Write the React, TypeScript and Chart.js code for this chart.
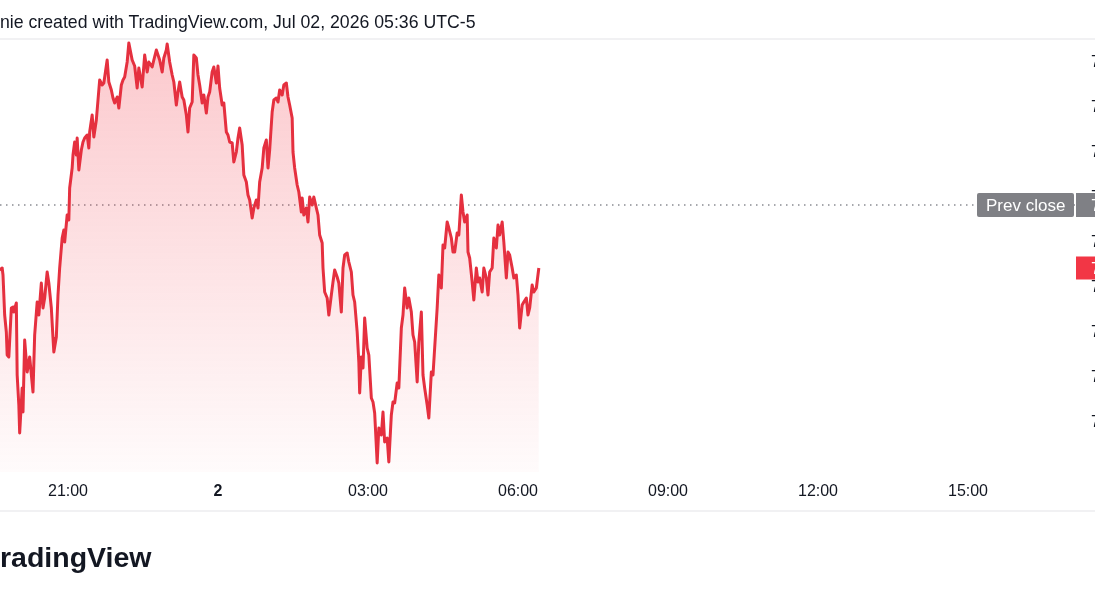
import React, { useEffect, useRef } from 'react';
import { Chart, registerables } from 'chart.js';

Chart.register(...registerables);

// Minutes relative to midnight of Jul 2 (negative = Jul 1 evening)
const times = [
  -262, -259, -258, -256, -254, -253, -251, -248, -246, -245, -242, -241, -239, -238, -235, -234, -232, -229, -226, -222,
  -220, -217, -215, -212, -210, -208, -205, -203, -200, -198, -197, -194, -192, -190, -187, -185, -184, -181, -179, -178,
  -175, -174, -172, -170, -169, -167, -164, -162, -160, -157, -155, -154, -151, -149, -146, -144, -142, -139, -137, -133,
  -131, -128, -126, -124, -121, -119, -116, -114, -112, -109, -107, -103, -100, -97, -95, -91, -88, -85, -83, -79,
  -77, -74, -72, -70, -67, -65, -62, -61, -58, -55, -53, -50, -48, -46, -43, -41, -38, -36, -34, -31,
  -29, -26, -24, -22, -19, -17, -14, -12, -10, -7, -5, -2, 0, 2, 5, 7, 10, 12, 14, 17,
  19, 22, 24, 26, 29, 31, 34, 36, 38, 41, 43, 46, 48, 50, 53, 55, 58, 60, 62, 65,
  67, 70, 72, 74, 77, 79, 82, 84, 86, 89, 90, 92, 95, 97, 100, 101, 103, 106, 108, 110,
  113, 115, 118, 120, 122, 125, 126, 128, 131, 133, 136, 138, 140, 143, 145, 148, 150, 152, 155, 157,
  160, 162, 164, 167, 169, 170, 172, 174, 176, 179, 181, 184, 186, 188, 191, 193, 196, 198, 200, 203,
  205, 208, 210, 212, 215, 217, 220, 222, 224, 227, 229, 232, 234, 236, 239, 241, 244, 246, 248, 251,
  253, 256, 258, 260, 263, 265, 268, 270, 272, 275, 277, 280, 282, 284, 287, 289, 292, 294, 296, 299,
  300, 302, 305, 307, 310, 312, 314, 317, 319, 322, 324, 326, 329, 331, 334, 336, 338, 341, 343, 346,
  348, 350, 353, 355, 358, 360, 362, 365, 367, 370, 372, 374, 377, 379, 382, 385,
];

const prices = [
  7.1753, 7.1755, 7.1748, 7.1708, 7.1691, 7.1668, 7.1666, 7.1715, 7.1716, 7.1711, 7.1720, 7.1648, 7.1618, 7.1590, 7.1635, 7.1611, 7.1683, 7.1651, 7.1666, 7.1631,
  7.1688, 7.1721, 7.1708, 7.1740, 7.1715, 7.1725, 7.1751, 7.1740, 7.1715, 7.1685, 7.1671, 7.1686, 7.1728, 7.1755, 7.1785, 7.1793, 7.1781, 7.1808, 7.1803, 7.1835,
  7.1855, 7.1868, 7.1881, 7.1868, 7.1885, 7.1853, 7.1873, 7.1881, 7.1885, 7.1888, 7.1875, 7.1891, 7.1908, 7.1886, 7.1903, 7.1923, 7.1943, 7.1938, 7.1940, 7.1963,
  7.1941, 7.1933, 7.1925, 7.1920, 7.1926, 7.1915, 7.1938, 7.1943, 7.1946, 7.1961, 7.1980, 7.1963, 7.1957, 7.1935, 7.1955, 7.1936, 7.1968, 7.1951, 7.1961, 7.1956,
  7.1963, 7.1973, 7.1968, 7.1963, 7.1951, 7.1965, 7.1973, 7.1979, 7.1961, 7.1948, 7.1941, 7.1918, 7.1931, 7.1941, 7.1926, 7.1923, 7.1908, 7.1891, 7.1915, 7.1921,
  7.1968, 7.1965, 7.1948, 7.1938, 7.1920, 7.1928, 7.1910, 7.1926, 7.1931, 7.1951, 7.1956, 7.1940, 7.1957, 7.1935, 7.1918, 7.1920, 7.1891, 7.1888, 7.1881, 7.1880,
  7.1861, 7.1871, 7.1885, 7.1895, 7.1878, 7.1848, 7.1841, 7.1828, 7.1823, 7.1805, 7.1815, 7.1823, 7.1815, 7.1841, 7.1855, 7.1875, 7.1883, 7.1855, 7.1873, 7.1911,
  7.1923, 7.1925, 7.1921, 7.1933, 7.1928, 7.1938, 7.1940, 7.1926, 7.1918, 7.1905, 7.1871, 7.1855, 7.1838, 7.1831, 7.1811, 7.1825, 7.1808, 7.1815, 7.1801, 7.1826,
  7.1818, 7.1826, 7.1815, 7.1808, 7.1788, 7.1780, 7.1755, 7.1731, 7.1725, 7.1708, 7.1728, 7.1741, 7.1753, 7.1746, 7.1740, 7.1711, 7.1755, 7.1768, 7.1770, 7.1761,
  7.1751, 7.1728, 7.1721, 7.1691, 7.1661, 7.1630, 7.1666, 7.1655, 7.1705, 7.1675, 7.1668, 7.1625, 7.1621, 7.1610, 7.1560, 7.1595, 7.1588, 7.1611, 7.1581, 7.1585,
  7.1561, 7.1608, 7.1621, 7.1620, 7.1640, 7.1635, 7.1695, 7.1708, 7.1735, 7.1715, 7.1725, 7.1711, 7.1688, 7.1681, 7.1641, 7.1681, 7.1711, 7.1648, 7.1635, 7.1618,
  7.1605, 7.1651, 7.1648, 7.1675, 7.1715, 7.1748, 7.1735, 7.1778, 7.1775, 7.1801, 7.1795, 7.1785, 7.1771, 7.1771, 7.1790, 7.1788, 7.1828, 7.1811, 7.1801, 7.1808,
  7.1771, 7.1765, 7.1741, 7.1723, 7.1755, 7.1741, 7.1745, 7.1731, 7.1755, 7.1745, 7.1728, 7.1751, 7.1755, 7.1785, 7.1775, 7.1798, 7.1788, 7.1801, 7.1781, 7.1745,
  7.1771, 7.1768, 7.1755, 7.1745, 7.1748, 7.1728, 7.1695, 7.1718, 7.1721, 7.1725, 7.1708, 7.1715, 7.1738, 7.1731, 7.1735, 7.1755,
];

const prevClose = 7.1818;
const timeTicks = [-180, 0, 180, 360, 540, 720, 900];
const timeTickLabels = ['21:00', '2', '03:00', '06:00', '09:00', '12:00', '15:00'];
const priceTicks = [7.16, 7.1645, 7.169, 7.1735, 7.178, 7.1825, 7.187, 7.1915, 7.196];
const headerText = 'nie created with TradingView.com, Jul 02, 2026 05:36 UTC-5';
const logoText = 'radingView';
const prevCloseLabel = 'Prev close';

const X_MIN = -261.6;
const X_MAX = 1028.4;
const Y_MIN = 7.1551;
const Y_MAX = 7.1983;

const FONT = '"Liberation Sans", Arial, sans-serif';
const RED = '#e5303f';
const LABEL_RED = '#f23645';

const overlayPlugin = {
  id: 'tvOverlay',
  beforeDraw(chart: any) {
    const c = chart.ctx;
    c.save();
    c.fillStyle = '#f1f1f3';
    c.fillRect(0, 38, chart.width, 2);
    c.fillRect(0, 510, chart.width, 2);
    c.restore();
  },
  afterDraw(chart: any) {
    const c = chart.ctx;
    const ys = chart.scales.y;
    const area = chart.chartArea;
    const py = ys.getPixelForValue(prevClose);
    c.save();
    c.fillStyle = '#7f8085';
    c.beginPath();
    (c as any).roundRect(977, py - 12, 97, 24, 2);
    c.fill();
    c.fillRect(area.right + 1, py - 12, 40, 24);
    c.fillStyle = '#ffffff';
    c.font = '17px ' + FONT;
    c.textBaseline = 'middle';
    c.textAlign = 'left';
    c.fillText(prevCloseLabel, 986, py + 1);
    c.fillText(prevClose.toFixed(4), area.right + 16, py + 1);
    const last = prices[prices.length - 1];
    const ly = ys.getPixelForValue(last);
    c.fillStyle = LABEL_RED;
    c.fillRect(area.right + 1, ly - 11.5, 40, 23);
    c.fillStyle = '#ffffff';
    c.fillText(last.toFixed(4), area.right + 16, ly + 1);
    c.restore();
  },
};

export default function App() {
  const canvasRef = useRef<HTMLCanvasElement | null>(null);

  useEffect(() => {
    const canvas = canvasRef.current;
    if (!canvas) return;
    const lineData = times.map((t, i) => ({ x: t, y: prices[i] }));
    const chart = new Chart(canvas, {
      type: 'line',
      data: {
        datasets: [
          {
            data: lineData,
            borderColor: RED,
            borderWidth: 3,
            pointRadius: 0,
            tension: 0,
            borderJoinStyle: 'round',
            fill: 'start',
            order: 1,
            backgroundColor: (ctx: any) => {
              const area = ctx.chart.chartArea;
              if (!area) return 'rgba(242,54,69,0.15)';
              const g = ctx.chart.ctx.createLinearGradient(0, area.top, 0, area.bottom);
              g.addColorStop(0, 'rgba(242,54,69,0.27)');
              g.addColorStop(1, 'rgba(242,54,69,0.02)');
              return g;
            },
          },
          {
            data: [
              { x: X_MIN, y: prevClose },
              { x: X_MAX, y: prevClose },
            ],
            borderColor: '#8a8c93',
            borderWidth: 1.4,
            borderDash: [1.5, 4.5],
            pointRadius: 0,
            fill: false,
            order: 2,
          },
        ],
      },
      options: {
        responsive: false,
        devicePixelRatio: 1,
        animation: false,
        events: [],
        layout: { padding: { top: 40, bottom: 90, left: 0, right: 0 } },
        plugins: { legend: { display: false }, tooltip: { enabled: false } },
        scales: {
          x: {
            type: 'linear',
            min: X_MIN,
            max: X_MAX,
            grid: { display: false, drawTicks: false },
            border: { display: false },
            afterBuildTicks: (scale: any) => {
              scale.ticks = timeTicks.map((v) => ({ value: v }));
            },
            afterFit: (scale: any) => {
              scale.height = 38;
            },
            ticks: {
              autoSkip: false,
              maxRotation: 0,
              padding: 10,
              color: '#131722',
              font: (ctx: any) => ({
                family: FONT,
                size: 16,
                weight: ctx.tick && ctx.tick.value === 0 ? 'bold' : 'normal',
              }),
              callback: (value: any) => {
                const i = timeTicks.indexOf(Number(value));
                return i >= 0 ? timeTickLabels[i] : '';
              },
            },
          },
          y: {
            type: 'linear',
            position: 'right',
            min: Y_MIN,
            max: Y_MAX,
            grid: { display: false, drawTicks: false },
            border: { display: false },
            afterBuildTicks: (scale: any) => {
              scale.ticks = priceTicks.map((v) => ({ value: v }));
            },
            afterFit: (scale: any) => {
              scale.width = 20;
            },
            ticks: {
              autoSkip: false,
              padding: 16,
              color: '#131722',
              font: { family: FONT, size: 16 },
              callback: (value: any) => Number(value).toFixed(4),
            },
          },
        },
      } as any,
      plugins: [overlayPlugin],
    });
    return () => chart.destroy();
  }, []);

  return (
    <div
      style={{
        position: 'fixed',
        left: 0,
        top: 0,
        width: 1095,
        height: 600,
        overflow: 'hidden',
        background: '#ffffff',
      }}
    >
      <canvas
        ref={canvasRef}
        width={1095}
        height={600}
        style={{ position: 'absolute', left: 0, top: 0, width: 1095, height: 600, display: 'block' }}
      />
      <div
        style={{
          position: 'absolute',
          left: 0,
          top: 12,
          fontFamily: FONT,
          fontSize: '17.7px',
          lineHeight: '20px',
          color: '#131722',
          whiteSpace: 'nowrap',
        }}
      >
        {headerText}
      </div>
      <div
        style={{
          position: 'absolute',
          left: 0,
          top: 541,
          fontFamily: FONT,
          fontWeight: 'bold',
          fontSize: '28.5px',
          lineHeight: '32px',
          color: '#131722',
          whiteSpace: 'nowrap',
        }}
      >
        {logoText}
      </div>
    </div>
  );
}
